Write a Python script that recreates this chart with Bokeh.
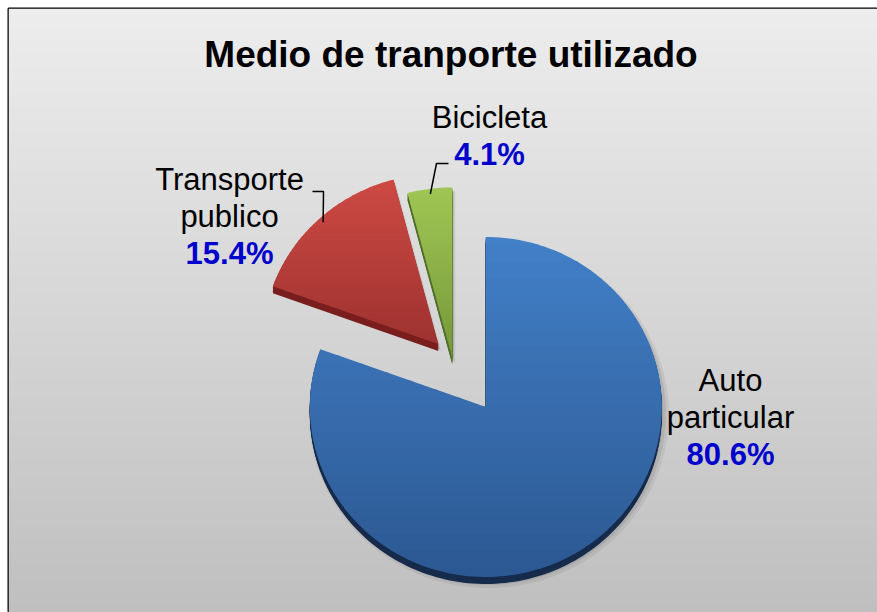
import numpy as np
from bokeh.plotting import figure
from bokeh.models import Range1d
from bokeh.embed import file_html
from bokeh.resources import INLINE
from bokeh.core.properties import value

# ---------------- data ----------------
title_text = "Medio de tranporte utilizado"
categories = ["Auto particular", "Transporte publico", "Bicicleta"]
label_lines = [["Auto", "particular"], ["Transporte", "publico"], ["Bicicleta"]]
percentages = [80.6, 15.4, 4.1]
pct_labels = ["80.6%", "15.4%", "4.1%"]

# ---------------- style / layout ----------------
PW, PH = 877, 612               # whole figure (page)
ML, MT = 8, 8                   # white gap before the chart border
W, H = PW - ML, PH - MT         # frame size
FONT = "Liberation Sans"
top_colors = [(66, 128, 200), (206, 74, 68), (160, 198, 84)]
bot_colors = [(44, 88, 146), (158, 50, 48), (118, 152, 58)]
side_colors = ["#172c4c", "#7a1f1e", "#50702a"]
explode = [58, 21, 2]          # px offset of each slice along its bisector
center = (444, 253)             # pie centre (frame px, y up)
rx, ry = 176, 170               # radii (slight 3-D tilt)
depth = 7                       # visible thickness
TEXT_DY = 10                    # baseline correction for rendered text
label_anchor = [(722, 222), (221, 423), (481, 485)]   # first text line baseline
line_step = 37
leader_elbows = [None, [(304, 421), (315, 421)], [(440, 449), (428, 449)]]
title_pos = (442.5, 548)

p = figure(width=PW, height=PH, x_range=Range1d(0, W), y_range=Range1d(0, H),
           output_backend="svg", toolbar_location=None,
           min_border_left=ML, min_border_top=MT, min_border_right=0, min_border_bottom=0,
           x_axis_location=None, y_axis_location=None)
p.grid.visible = False
p.outline_line_color = "black"
p.outline_line_width = 2
p.background_fill_color = "#d6d6d6"
p.border_fill_color = "white"

# background vertical gradient
img = np.zeros((H, 1), dtype=np.uint32)
view = img.view(dtype=np.uint8).reshape((H, 1, 4))
for i in range(H):
    g = int(round(191 + (237 - 191) * i / (H - 1)))
    view[i, 0, :] = [g, g, g, 255]
p.image_rgba(image=[img], x=0, y=0, dw=W, dh=H)

# ---------------- geometry ----------------
total = float(sum(percentages))
cum = np.concatenate([[0.0], np.cumsum(percentages)]) / total
a_start = 90.0 - 360.0 * cum[:-1]
a_end = 90.0 - 360.0 * cum[1:]
mids = np.radians((a_start + a_end) / 2.0)


def slice_poly(k, dx=0.0, dy=0.0, grow=0.0):
    cx = center[0] + explode[k] * np.cos(mids[k]) + dx
    cy = center[1] + explode[k] * np.sin(mids[k]) + dy
    n = max(8, int(abs(a_start[k] - a_end[k]) / 1.5))
    th = np.radians(np.linspace(a_start[k], a_end[k], n))
    xs = [cx] + list(cx + (rx + grow) * np.cos(th))
    ys = [cy] + list(cy + (ry + grow) * np.sin(th))
    return xs, ys, (cx, cy)


def clip_half(pts, keep, yc):
    out = []
    for i in range(len(pts)):
        cur, prev = pts[i], pts[i - 1]
        if keep(cur):
            if not keep(prev):
                t = (yc - prev[1]) / (cur[1] - prev[1])
                out.append((prev[0] + t * (cur[0] - prev[0]), yc))
            out.append(cur)
        elif keep(prev):
            t = (yc - prev[1]) / (cur[1] - prev[1])
            out.append((prev[0] + t * (cur[0] - prev[0]), yc))
    return out


def clip_band(pts, ylo, yhi):
    r = clip_half(pts, lambda q: q[1] >= ylo, ylo)
    if len(r) >= 3:
        r = clip_half(r, lambda q: q[1] <= yhi, yhi)
    return r


nsl = len(percentages)

# soft shadows
for grow, off, alpha in [(4, (3, -7), 0.06), (2, (2, -6), 0.08), (0, (1, -5), 0.10)]:
    sx, sy = [], []
    for k in range(nsl):
        xs, ys, _ = slice_poly(k, off[0], off[1], grow)
        sx.append(xs)
        sy.append(ys)
    p.patches(sx, sy, fill_color="black", fill_alpha=alpha, line_color=None)

# sides (extrusion)
ex, ey, ec = [], [], []
for k in range(nsl):
    for d in range(depth, 0, -1):
        xs, ys, _ = slice_poly(k, 0, -d)
        ex.append(xs)
        ey.append(ys)
        ec.append(side_colors[k])
p.patches(ex, ey, fill_color=ec, line_color=None)

# top faces with vertical gradient bands
bx, by, bc = [], [], []
nb = 40
for k in range(nsl):
    xs, ys, _ = slice_poly(k)
    pts = list(zip(xs, ys))
    y0, y1 = min(ys), max(ys)
    h = (y1 - y0) / nb
    for b in range(nb):
        lo = y1 - (b + 1) * h
        hi = y1 - b * h + 0.9
        seg = clip_band(pts, lo, hi)
        if len(seg) < 3:
            continue
        t = (b + 0.5) / nb
        c = tuple(int(round(top_colors[k][j] + (bot_colors[k][j] - top_colors[k][j]) * t)) for j in range(3))
        bx.append([q[0] for q in seg])
        by.append([q[1] for q in seg])
        bc.append("#%02x%02x%02x" % c)
p.patches(bx, by, fill_color=bc, line_color=None)

# leader lines
for k in range(nsl):
    if leader_elbows[k] is None:
        continue
    _, _, apex = slice_poly(k)
    ex_ = apex[0] + 0.97 * rx * np.cos(mids[k])
    ey_ = apex[1] + 0.97 * ry * np.sin(mids[k])
    lx = [q[0] for q in leader_elbows[k]] + [ex_]
    ly = [q[1] for q in leader_elbows[k]] + [ey_]
    p.line(lx, ly, line_color="black", line_width=1.5)

# labels
for k in range(nsl):
    x0, y0 = label_anchor[k]
    y0 += TEXT_DY
    lines = label_lines[k]
    for j, t in enumerate(lines):
        p.text(x=[x0], y=[y0 - j * line_step], text=[t],
               text_font=value(FONT), text_font_size="31px",
               text_align="center", text_baseline="alphabetic", text_color="black")
    p.text(x=[x0], y=[y0 - len(lines) * line_step], text=[pct_labels[k]],
           text_font=value(FONT), text_font_size="31px", text_font_style="bold",
           text_align="center", text_baseline="alphabetic", text_color="#0000cc")

# title
p.text(x=[title_pos[0]], y=[title_pos[1] + TEXT_DY], text=[title_text], text_font=value(FONT),
       text_font_size="37px", text_font_style="bold", text_align="center",
       text_baseline="alphabetic", text_color="black")

open("out.html", "w").write(file_html(p, INLINE))
